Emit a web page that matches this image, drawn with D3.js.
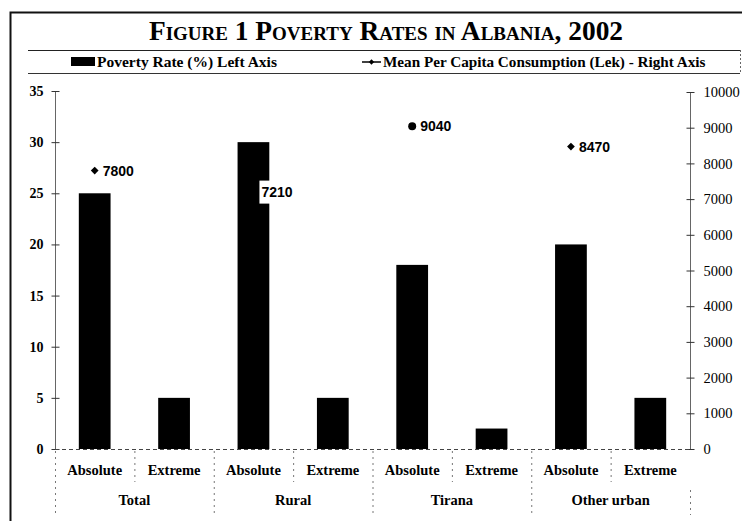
<!DOCTYPE html>
<html>
<head>
  <meta charset="utf-8">
  <title>Poverty Rates in Albania, 2002</title>
  <script src="https://d3js.org/d3.v7.min.js"></script>
  <style>
    body { margin: 0; background: #fff; }
    svg { display: block; }
  </style>
</head>
<body>
<div id="chart"></div>
<script>

// Data
const groups = ["Total", "Rural", "Tirana", "Other urban"];
const types = ["Absolute", "Extreme"];
const povertyRate = [25, 5, 30, 5, 18, 2, 20, 5];          // % (left axis)
const consumption = [7800, 7210, 9040, 8470];               // Lek (right axis), on the Absolute bars
const leftTicks = [0, 5, 10, 15, 20, 25, 30, 35];
const rightTicks = [0, 1000, 2000, 3000, 4000, 5000, 6000, 7000, 8000, 9000, 10000];

const W = 743, H = 521;
const serif = "'Liberation Serif', 'Times New Roman', serif";
const sans = "'Liberation Sans', Arial, sans-serif";

// one entry per bar
const cats = [];
groups.forEach((g, gi) => types.forEach((t, ti) => {
  cats.push({ key: g + "|" + t, group: g, type: t, value: povertyRate[gi * 2 + ti] });
}));

const svg = d3.select("#chart").append("svg")
  .attr("width", W).attr("height", H);

// Outer frame
svg.append("path")
  .attr("d", "M10.5,521 V12.5 H742")
  .attr("fill", "none").attr("stroke", "#111").attr("stroke-width", 2);

// Title
svg.append("text")
  .attr("x", 386).attr("y", 40)
  .attr("text-anchor", "middle")
  .attr("font-family", serif)
  .attr("font-weight", "bold")
  .attr("font-size", 27.4)
  .style("font-variant", "small-caps")
  .text("Figure 1 Poverty Rates in Albania, 2002");

// Legend box
svg.append("line").attr("x1", 28).attr("x2", 740).attr("y1", 50.5).attr("y2", 50.5)
  .attr("stroke", "#222").attr("stroke-width", 1.2);
svg.append("line").attr("x1", 28).attr("x2", 740).attr("y1", 73.5).attr("y2", 73.5)
  .attr("stroke", "#333").attr("stroke-width", 1);
svg.append("line").attr("x1", 740.5).attr("x2", 740.5).attr("y1", 50).attr("y2", 74)
  .attr("stroke", "#666").attr("stroke-dasharray", "2,2");

svg.append("rect").attr("x", 71).attr("y", 57).attr("width", 24).attr("height", 9).attr("fill", "#000");
svg.append("text").attr("x", 97).attr("y", 67)
  .attr("font-family", serif).attr("font-weight", "bold").attr("font-size", 15.5)
  .text("Poverty Rate (%) Left Axis");

const diamond = size => d3.symbol(d3.symbolSquare, size)();

svg.append("line").attr("x1", 362).attr("x2", 381).attr("y1", 62).attr("y2", 62)
  .attr("stroke", "#000").attr("stroke-width", 1.5);
svg.append("path").attr("d", diamond(14))
  .attr("transform", "translate(371.5,62) rotate(45)").attr("fill", "#000");
svg.append("text").attr("x", 383).attr("y", 67)
  .attr("font-family", serif).attr("font-weight", "bold").attr("font-size", 15.2)
  .text("Mean Per Capita Consumption (Lek) - Right Axis");

// Scales
const x = d3.scaleBand()
  .domain(cats.map(d => d.key))
  .range([55, 690])
  .paddingInner(0.6)
  .paddingOuter(0.3);

const yL = d3.scaleLinear().domain([0, 35]).range([449, 91]);
const yR = d3.scaleLinear().domain([0, 10000]).range([449, 92]);

// Left axis
const axL = svg.append("g")
  .attr("transform", "translate(55.5,0)")
  .call(d3.axisLeft(yL).tickValues(leftTicks).tickSize(4).tickPadding(8));
axL.select(".domain").attr("stroke", "#666").attr("d", "M0," + yL(35) + "V" + yL(0));
axL.selectAll(".tick line").attr("x2", 4).attr("x1", -4).attr("stroke", "#333");
axL.selectAll(".tick text")
  .attr("font-family", serif).attr("font-weight", "bold").attr("font-size", 14).attr("fill", "#000");

// Right axis
const axR = svg.append("g")
  .attr("transform", "translate(690.5,0)")
  .call(d3.axisRight(yR).tickValues(rightTicks).tickFormat(d3.format("d")).tickSize(4).tickPadding(9));
axR.select(".domain").attr("stroke", "#666").attr("d", "M0," + yR(10000) + "V" + yR(0));
axR.selectAll(".tick line").attr("x2", 4).attr("x1", -4).attr("stroke", "#333");
axR.selectAll(".tick text")
  .attr("font-family", serif).attr("font-size", 14.5).attr("fill", "#000");

// Bars
svg.append("g").selectAll("rect")
  .data(cats)
  .join("rect")
    .attr("x", d => x(d.key))
    .attr("width", x.bandwidth())
    .attr("y", d => yL(d.value))
    .attr("height", d => yL(0) - yL(d.value))
    .attr("fill", "#000");

// Baseline (dashed)
svg.append("line")
  .attr("x1", 55).attr("x2", 690).attr("y1", yL(0) + 0.5).attr("y2", yL(0) + 0.5)
  .attr("stroke", "#444").attr("stroke-dasharray", "4,3");

// Category separators: short between bars, long between groups
const step = x.step();
d3.range(cats.length).forEach(i => {
  const xx = 55 + i * step;
  const isGroup = i % 2 === 0;
  svg.append("line")
    .attr("x1", xx + 0.5).attr("x2", xx + 0.5)
    .attr("y1", yL(0) + 2).attr("y2", isGroup ? 515 : 482)
    .attr("stroke", "#777").attr("stroke-dasharray", "2,4");
});
svg.append("line")
  .attr("x1", 690.5).attr("x2", 690.5).attr("y1", 490).attr("y2", 515)
  .attr("stroke", "#777").attr("stroke-dasharray", "2,4");

// Category labels
svg.append("g").selectAll("text")
  .data(cats)
  .join("text")
    .attr("x", d => x(d.key) + x.bandwidth() / 2)
    .attr("y", 475)
    .attr("text-anchor", "middle")
    .attr("font-family", serif).attr("font-weight", "bold").attr("font-size", 14.5)
    .text(d => d.type);

svg.append("g").selectAll("text")
  .data(groups)
  .join("text")
    .attr("x", (g, i) => 55 + (i * 2 + 1) * step)
    .attr("y", 505)
    .attr("text-anchor", "middle")
    .attr("font-family", serif).attr("font-weight", "bold").attr("font-size", 14.5)
    .text(g => g);

// Consumption markers on the Absolute categories
const pts = groups.map((g, i) => ({ key: g + "|Absolute", value: consumption[i] }));
const cx = d => x(d.key) + x.bandwidth() / 2;

svg.append("g").selectAll("path")
  .data(pts)
  .join("path")
    .attr("d", (d, i) => i === 2 ? d3.symbol(d3.symbolCircle, 50)() : diamond(30))
    .attr("transform", (d, i) => `translate(${cx(d)},${yR(d.value)})` + (i === 2 ? "" : " rotate(45)"))
    .attr("fill", "#000");

const lab = svg.append("g").selectAll("g")
  .data(pts)
  .join("g")
    .attr("transform", d => `translate(${cx(d) + 6},${yR(d.value)})`);

// white box behind the label that overlaps the Rural bar
lab.filter((d, i) => i === 1).append("rect")
  .attr("x", 0).attr("y", -11).attr("width", 36).attr("height", 23).attr("fill", "#fff");

lab.append("text")
  .attr("x", 2).attr("y", 5)
  .attr("font-family", sans).attr("font-weight", "bold").attr("font-size", 14)
  .text(d => d.value);

</script>
</body>
</html>
